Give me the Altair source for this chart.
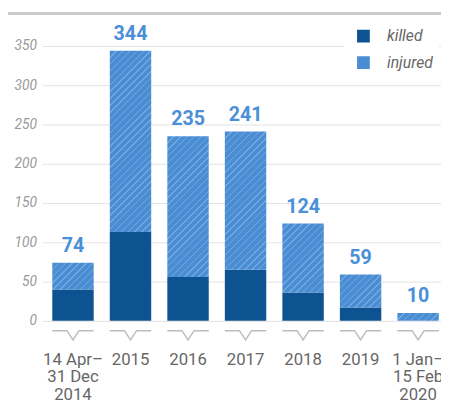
import altair as alt
import pandas as pd

# ---- data ----
periods = ["14 Apr–\n31 Dec\n2014", "2015", "2016", "2017", "2018", "2019", "1 Jan–\n15 Feb\n2020"]
killed = [40, 113, 56, 65, 36, 17, 0]
total = [74, 344, 235, 241, 124, 59, 10]
series = ["killed", "injured"]
y_ticks = [0, 50, 100, 150, 200, 250, 300, 350]

# ---- style / layout ----
W, H = 406, 280
Y_MAX = 350
P_INNER, P_OUTER, ALIGN = 0.28, 0.105, 0.82
KILLED_C = "#0e5391"
INJ_C = "#4a8dd3"
STRIPE_C = "#70a8e2"
LABEL_C = "#4a8fd8"
FONT = "Roboto"

step = W / (len(periods) - P_INNER + 2 * P_OUTER)
BW = step * (1 - P_INNER)


def hatch(h, w=BW, s=7.0, lw=1.5):
    """Diagonal stripes as a bbox-relative linear gradient for a w x h bar."""
    h = max(h, 1.0)
    L = w + h
    k = L / (w * w + h * h)
    e = lw / 2 / L
    stops = [{"offset": 0, "color": INJ_C}]
    i = 1
    while True:
        c = i * s / L
        if c - e >= 1:
            break
        a, b = max(0.0, c - e), min(1.0, c + e)
        stops += [
            {"offset": a, "color": INJ_C},
            {"offset": a, "color": STRIPE_C},
            {"offset": b, "color": STRIPE_C},
            {"offset": b, "color": INJ_C},
        ]
        i += 1
    stops.append({"offset": 1, "color": INJ_C})
    return {"gradient": "linear", "x1": 0, "y1": 0, "x2": w * k, "y2": h * k, "stops": stops}


df = pd.DataFrame({"period": periods, "killed": killed, "total": total})
df["injured"] = df["total"] - df["killed"]
df["series"] = series[0]

xscale = alt.Scale(domain=periods, paddingInner=P_INNER, paddingOuter=P_OUTER, align=ALIGN, round=False)
yscale = alt.Scale(domain=[0, Y_MAX], nice=False)

x_axis = alt.Axis(
    title=None, labelAngle=0, ticks=False, domain=False, grid=False,
    labelPadding=31, labelFontSize=17, labelFont=FONT, labelColor="#666666",
    labelLineHeight=18, labelExpr="split(datum.label, '\\n')",
    labelOverlap=False, labelBound=False,
)
y_axis = alt.Axis(
    title=None, values=y_ticks, ticks=False, domain=False, grid=True,
    gridColor="#e2e2e2", gridWidth=1, labelFont=FONT, labelFontSize=14,
    labelFontStyle="italic", labelColor="#9a9a9a", labelPadding=6,
    labelOverlap=False,
)


def X():
    return alt.X("period:N", scale=xscale, sort=periods, axis=x_axis)


def Y(field):
    return alt.Y(field, scale=yscale, axis=y_axis)


base = alt.Chart(df)

killed_bars = base.mark_bar().encode(
    x=X(),
    y=Y("killed:Q"),
    color=alt.Color(
        "series:N",
        scale=alt.Scale(domain=series, range=[KILLED_C, INJ_C]),
        legend=alt.Legend(
            title=None, orient="none", legendX=307, legendY=-24,
            symbolType="square", symbolSize=169, symbolStrokeWidth=0,
            labelFont=FONT, labelFontSize=16, labelFontStyle="italic",
            labelColor="#666666", fillColor="white", padding=6,
            rowPadding=11, labelOffset=16, symbolOffset=6,
        ),
    ),
)

injured_layers = []
for p, k_, t_ in zip(periods, killed, total):
    h_px = (t_ - k_) * H / Y_MAX
    injured_layers.append(
        base.transform_filter(alt.datum.period == p)
        .mark_bar(fill=hatch(h_px))
        .encode(x=X(), y=Y("killed:Q"), y2="total:Q")
    )

labels = base.mark_text(
    baseline="bottom", dy=-7, font=FONT, fontSize=20, fontWeight="bold", color=LABEL_C
).encode(x=X(), y=Y("total:Q"), text="total:Q")

v_ticks = base.mark_point(
    shape="M-1,0L-0.29,0L0,0.45L0.29,0L1,0",
    size=BW * BW, filled=False, color="#bdbdbd", strokeWidth=1.5, opacity=1,
).encode(x=X(), y=alt.value(H + 10))

top_rule = base.mark_rule(color="#cccccc", strokeWidth=2).encode(
    x=alt.value(-35), x2=alt.value(W), y=alt.value(-33)
)

chart = alt.layer(killed_bars, *injured_layers, labels, v_ticks, top_rule).properties(
    width=W, height=H,
    autosize=alt.AutoSizeParams(type="none"),
    padding={"left": 35, "top": 35, "right": 0, "bottom": 80},
).configure_view(stroke=None)

chart.save("out.html", embed_options={"renderer": "svg", "actions": False})
